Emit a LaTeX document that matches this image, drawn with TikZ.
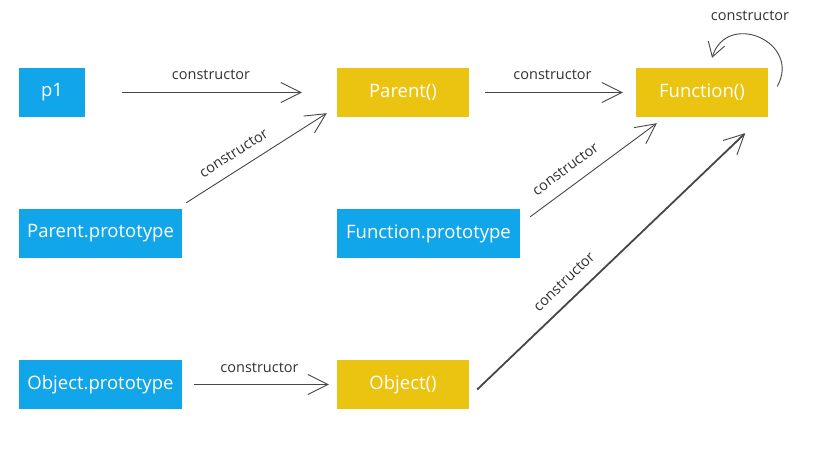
\documentclass[tikz,border=0pt]{standalone}
\usepackage{fontspec}
\setmainfont{Open Sans}
\usetikzlibrary{arrows.meta,calc}
\definecolor{bxblue}{RGB}{17,166,234}
\definecolor{bxyellow}{RGB}{234,196,16}
\definecolor{ln}{RGB}{70,70,70}
\definecolor{lt}{RGB}{50,50,50}
\tikzset{
  box/.style={minimum height=49pt,inner sep=0pt,text=white,font=\fontsize{18.5}{21}\selectfont},
  bbox/.style={box,fill=bxblue},
  ybox/.style={box,fill=bxyellow},
  conn/.style={draw=ln,line width=0.9pt,-{Straight Barb[length=20pt,width=20pt,line width=0.9pt]}},
  loopconn/.style={draw=ln,line width=0.9pt,-{Straight Barb[length=14pt,width=17pt,line width=0.9pt]}},
  lbl/.style={text=lt,font=\fontsize{14.5}{17}\selectfont,inner sep=2pt}
}
\begin{document}
\begin{tikzpicture}[x=1pt,y=-1pt]
\useasboundingbox (0,0) rectangle (824,470);
\node[bbox,minimum width=66pt]  (p1)  at (52,92.5)   {p1};
\node[ybox,minimum width=132pt] (par) at (403,92.5)  {Parent()};
\node[ybox,minimum width=132pt] (fn)  at (702,92.5)  {Function()};
\node[bbox,minimum width=163pt] (pp)  at (100.5,233.5) {Parent.prototype};
\node[bbox,minimum width=183pt] (fp)  at (428.5,233.5) {Function.prototype};
\node[bbox,minimum width=163pt] (op)  at (100.5,384.5) {Object.prototype};
\node[ybox,minimum width=132pt] (obj) at (403,384.5) {Object()};

\draw[conn,shorten <=37pt,shorten >=35pt] (p1.east) -- node[lbl,above=10pt]{constructor} (par.west);
\draw[conn,shorten <=16pt,shorten >=13pt] (par.east) -- node[lbl,above=10pt]{constructor} (fn.west);
\draw[conn,shorten <=12pt,shorten >=8pt] (op.east) -- node[lbl,above=9pt]{constructor} (obj.west);

\draw[conn] ($(pp.north east)+(4,-6)$) -- node[lbl,sloped,above=9pt,pos=0.4]{constructor} ($(par.south west)+(-10,-4)$);
\draw[conn] ($(fp.north east)+(10,8)$) -- node[lbl,sloped,above=10pt,pos=0.36]{constructor} ($(fn.south west)+(21,6)$);
\draw[conn,line width=1.8pt] ($(obj.east)+(8,5)$) -- node[lbl,sloped,above=10pt,pos=0.37]{constructor} ($(fn.south east)+(-23,16)$);

\draw[loopconn] ($(fn.east)+(9,-6)$) .. controls (802,42) and (727,10) .. ($(fn.north)+(10,-10)$);
\node[lbl] (lp) at (750,16) {constructor};
\end{tikzpicture}
\end{document}
